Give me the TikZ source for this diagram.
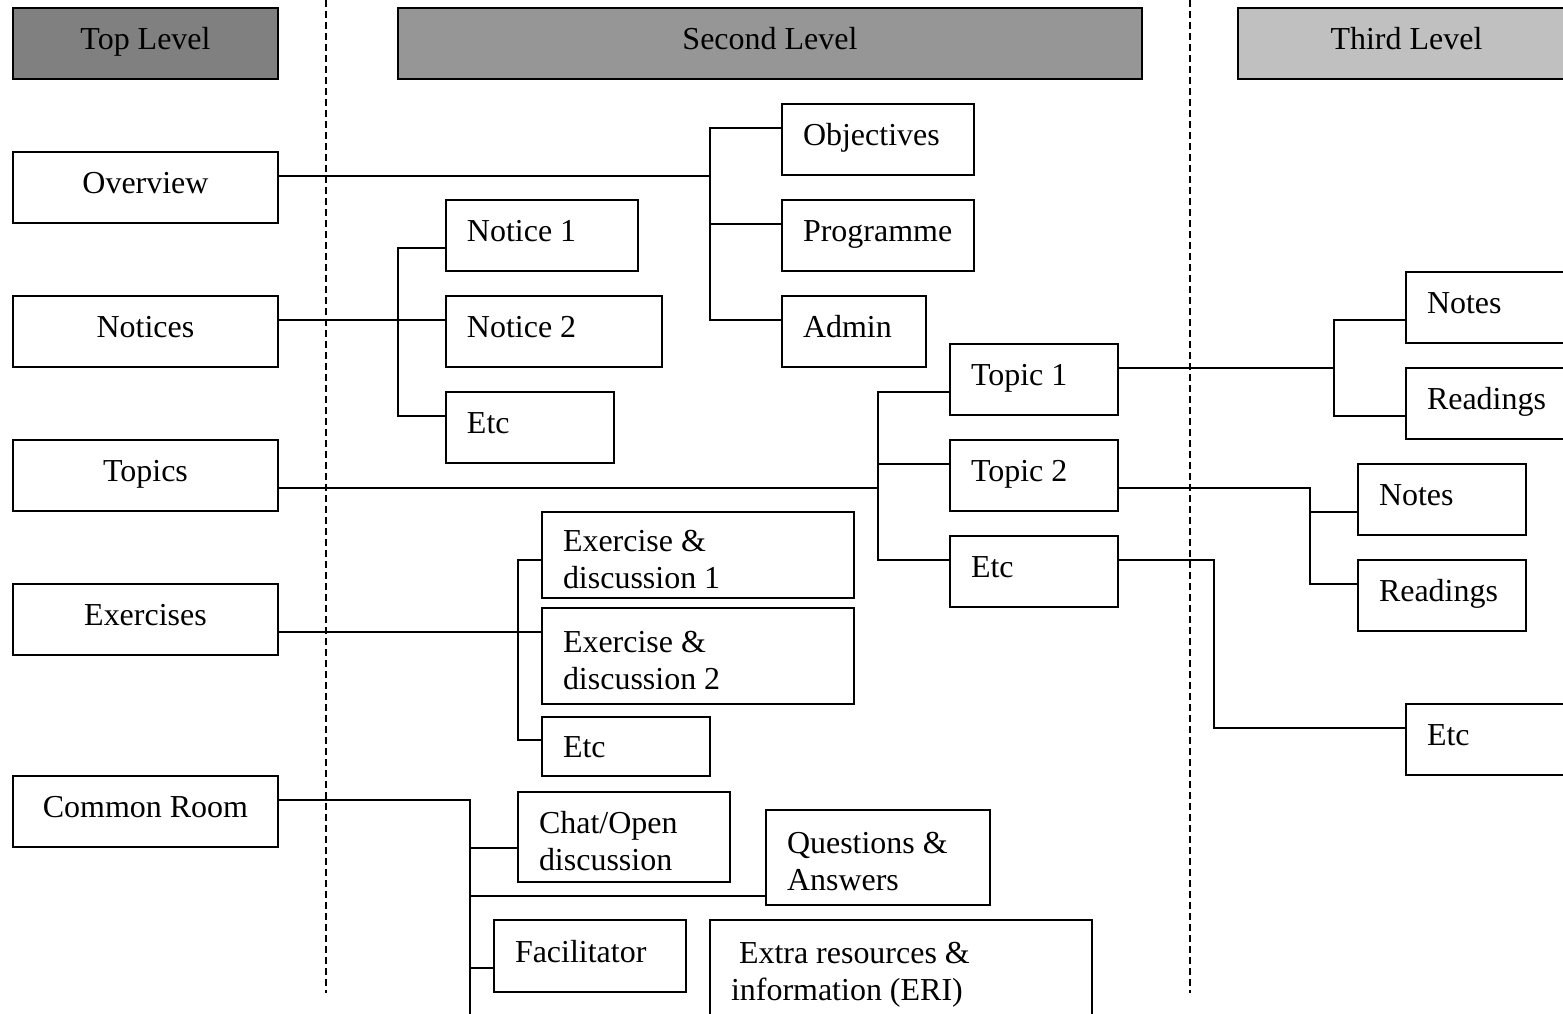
\documentclass[tikz,border=0pt]{standalone}
\usepackage{fontspec}
\setmainfont{Liberation Serif}
\definecolor{topGray}{RGB}{128,128,128}
\definecolor{secondGray}{RGB}{150,150,150}
\definecolor{thirdGray}{RGB}{192,192,192}

\begin{document}
\begin{tikzpicture}[x=0.02cm, y=-0.02cm, line width=1.1pt,
  font=\fontsize{18.2}{21}\selectfont,
  box/.style={draw=black, line width=1.1pt, anchor=north west, outer sep=0pt, minimum height=1.42cm},
  cbox/.style={box, inner sep=0pt, text height=0.44cm, text depth=0.18cm},
  lbox/.style={box, inner xsep=0.42cm, inner ysep=0pt, align=flush left},
  oneline/.style={text height=0.44cm, text depth=0.18cm},
  twoline/.style={execute at begin node={\rule{0pt}{0.6cm}}},
  divider/.style={line width=0.8pt, dash pattern=on 0.14cm off 0.08cm}]
  \useasboundingbox (0,0) rectangle (1563,1014);

  % level headers
  \node[cbox, fill=topGray, minimum width=5.30cm] (TOP) at (13,8) {Top Level};
  \node[cbox, fill=secondGray, minimum width=14.88cm] (SECOND) at (398,8) {Second Level};
  \node[cbox, fill=thirdGray, minimum width=6.74cm] (THIRD) at (1238,8) {Third Level};

  \draw[divider] (326,0) -- (326,993);
  \draw[divider] (1190,0) -- (1190,993);

  % top level
  \node[cbox, minimum width=5.30cm] (OVERVIEW) at (13,152) {Overview};
  \node[cbox, minimum width=5.30cm] (NOTICES) at (13,296) {Notices};
  \node[cbox, minimum width=5.30cm] (TOPICS) at (13,440) {Topics};
  \node[cbox, minimum width=5.30cm] (EXERCISES) at (13,584) {Exercises};
  \node[cbox, minimum width=5.30cm] (COMMON) at (13,776) {Common Room};

  % second level
  \node[lbox, oneline, text width=3.00cm] (OBJ) at (782,104) {Objectives};
  \node[lbox, oneline, text width=3.00cm] (PROG) at (782,200) {Programme};
  \node[lbox, oneline, text width=2.04cm] (ADMIN) at (782,296) {Admin};
  \node[lbox, oneline, text width=3.00cm] (NOTICE1) at (446,200) {Notice 1};
  \node[lbox, oneline, text width=3.48cm] (NOTICE2) at (446,296) {Notice 2};
  \node[lbox, oneline, text width=2.52cm] (NOTICEETC) at (446,392) {Etc};
  \node[lbox, oneline, text width=2.52cm] (TOPIC1) at (950,344) {Topic 1};
  \node[lbox, oneline, text width=2.52cm] (TOPIC2) at (950,440) {Topic 2};
  \node[lbox, oneline, text width=2.52cm] (TOPICETC) at (950,536) {Etc};
  \node[lbox, twoline, text width=5.40cm, minimum height=1.72cm] (EXER1) at (542,512) {Exercise \&\\discussion 1};
  \node[lbox, twoline, text width=5.40cm, minimum height=1.92cm] (EXER2) at (542,608) {Exercise \&\\discussion 2};
  \node[lbox, text height=0.44cm, text depth=0cm, text width=2.52cm, minimum height=1.18cm] (EXERETC) at (542,717) {Etc};
  \node[lbox, twoline, text width=3.40cm, minimum height=1.80cm] (CHAT) at (518,792) {Chat/Open\\discussion};
  \node[lbox, twoline, text width=3.64cm, minimum height=1.90cm] (QA) at (766,810) {Questions \&\\Answers};
  \node[lbox, oneline, text width=3.00cm, minimum height=1.44cm] (FACIL) at (494,920) {Facilitator};
  \node[lbox, twoline, text width=6.80cm, minimum height=2.00cm] (ERI) at (710,920) {\hspace{0.16cm}Extra resources \&\\information (ERI)};

  % third level
  \node[lbox, oneline, text width=3.04cm] (NOTES1) at (1406,272) {Notes};
  \node[lbox, oneline, text width=3.04cm] (READ1) at (1406,368) {Readings};
  \node[lbox, oneline, text width=2.52cm] (NOTES2) at (1358,464) {Notes};
  \node[lbox, oneline, text width=2.52cm] (READ2) at (1358,560) {Readings};
  \node[lbox, oneline, text width=3.04cm] (ETC3) at (1406,704) {Etc};

  % overview
  \coordinate (OVBUS) at (710,176);
  \draw (OVERVIEW.east |- OVBUS) -- (OVBUS);
  \draw (OBJ.west |- 0,128) -| (OVBUS) |- (ADMIN.west |- 0,320);
  \draw (OVBUS |- 0,224) -- (PROG.west |- 0,224);

  % notices
  \coordinate (NOBUS) at (398,320);
  \draw (NOTICES.east |- NOBUS) -- (NOTICE2.west |- NOBUS);
  \draw (NOTICE1.west |- 0,248) -| (NOBUS) |- (NOTICEETC.west |- 0,416);

  % topics
  \coordinate (TOBUS) at (878,488);
  \draw (TOPICS.east |- TOBUS) -- (TOBUS);
  \draw (TOPIC1.west |- 0,392) -| (TOBUS) |- (TOPICETC.west |- 0,560);
  \draw (TOBUS |- 0,464) -- (TOPIC2.west |- 0,464);

  % exercises
  \coordinate (EXBUS) at (518,632);
  \draw (EXERCISES.east |- EXBUS) -- (EXER2.west |- EXBUS);
  \draw (EXER1.west |- 0,560) -| (EXBUS) |- (EXERETC.west |- 0,740);

  % common room
  \coordinate (CRBUS) at (470,800);
  \coordinate (CREND) at (470,1020);
  \draw (COMMON.east |- CRBUS) -- (CRBUS) -- (CREND);
  \draw (CRBUS |- 0,848) -- (CHAT.west |- 0,848);
  \draw (CRBUS |- 0,896) -- (QA.west |- 0,896);
  \draw (CRBUS |- 0,968) -- (FACIL.west |- 0,968);

  % topic 1, topic 2, etc
  \coordinate (T1BUS) at (1334,368);
  \draw (TOPIC1.east |- T1BUS) -- (T1BUS);
  \draw (NOTES1.west |- 0,320) -| (T1BUS) |- (READ1.west |- 0,416);

  \coordinate (T2BUS) at (1310,488);
  \draw (TOPIC2.east |- T2BUS) -- (T2BUS) |- (READ2.west |- 0,584);
  \draw (T2BUS |- 0,512) -- (NOTES2.west |- 0,512);

  \coordinate (TEBUS) at (1214,560);
  \draw (TOPICETC.east |- TEBUS) -- (TEBUS) |- (ETC3.west |- 0,728);
\end{tikzpicture}
\end{document}
